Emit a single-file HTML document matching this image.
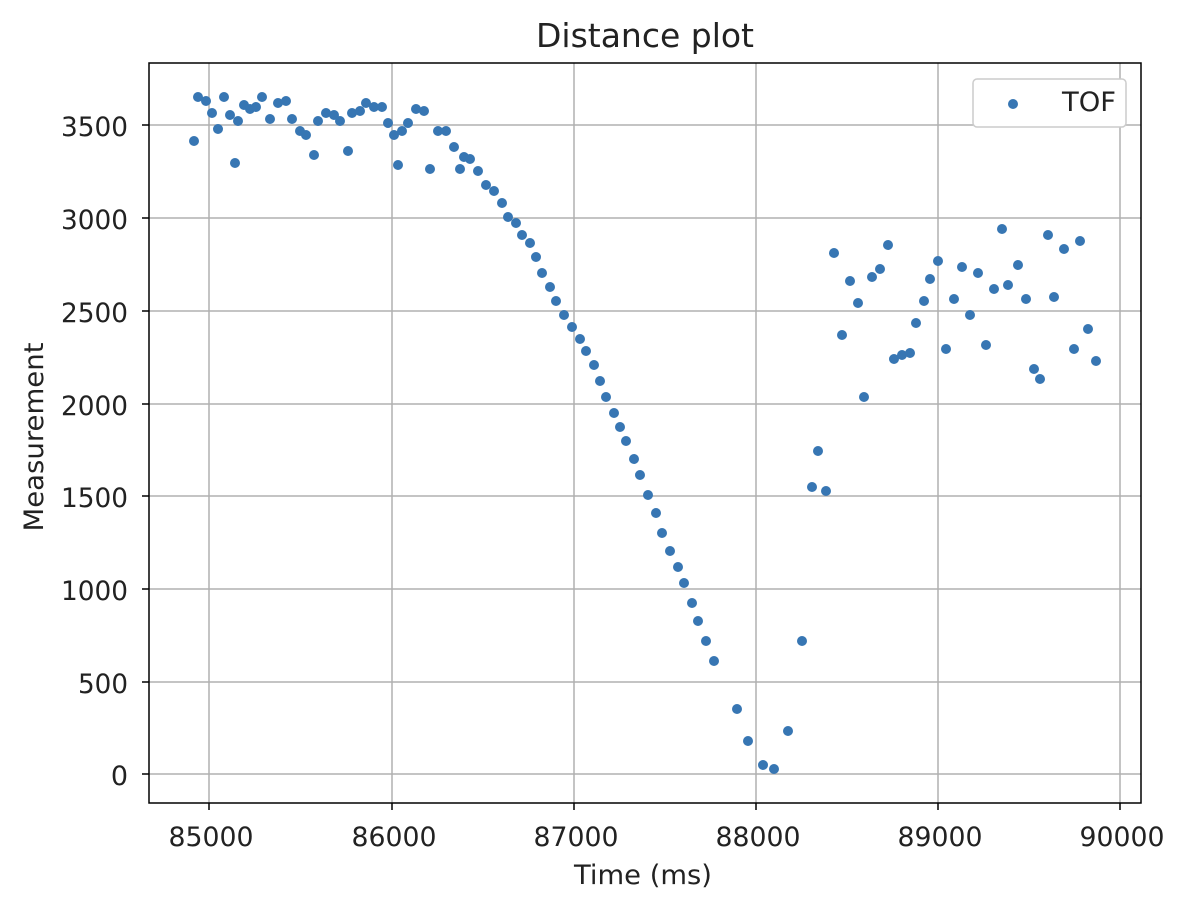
<!DOCTYPE html>
<html><head><style>body{margin:0;background:#fff}</style></head><body>
<svg width="1190" height="906" xmlns="http://www.w3.org/2000/svg" font-family="'DejaVu Sans','Liberation Sans',sans-serif">
<rect width="1190" height="906" fill="#fff"/>
<g stroke="#b0b0b0" stroke-width="1.5">
<line x1="209" y1="63" x2="209" y2="803"/><line x1="392" y1="63" x2="392" y2="803"/><line x1="574" y1="63" x2="574" y2="803"/><line x1="756" y1="63" x2="756" y2="803"/><line x1="938" y1="63" x2="938" y2="803"/><line x1="1120" y1="63" x2="1120" y2="803"/>
<line x1="149" y1="125" x2="1141" y2="125"/><line x1="149" y1="218" x2="1141" y2="218"/><line x1="149" y1="311" x2="1141" y2="311"/><line x1="149" y1="404" x2="1141" y2="404"/><line x1="149" y1="496" x2="1141" y2="496"/><line x1="149" y1="589" x2="1141" y2="589"/><line x1="149" y1="682" x2="1141" y2="682"/><line x1="149" y1="774" x2="1141" y2="774"/>
</g>
<g fill="#3776b3">
<circle cx="194" cy="141" r="5"/><circle cx="198" cy="97" r="5"/><circle cx="206" cy="101" r="5"/><circle cx="212" cy="113" r="5"/><circle cx="218" cy="129" r="5"/><circle cx="224" cy="97" r="5"/><circle cx="230" cy="115" r="5"/><circle cx="235" cy="163" r="5"/><circle cx="238" cy="121" r="5"/><circle cx="244" cy="105" r="5"/><circle cx="250" cy="109" r="5"/><circle cx="256" cy="107" r="5"/><circle cx="262" cy="97" r="5"/><circle cx="270" cy="119" r="5"/><circle cx="278" cy="103" r="5"/><circle cx="286" cy="101" r="5"/><circle cx="292" cy="119" r="5"/><circle cx="300" cy="131" r="5"/><circle cx="306" cy="135" r="5"/><circle cx="314" cy="155" r="5"/><circle cx="318" cy="121" r="5"/><circle cx="326" cy="113" r="5"/><circle cx="334" cy="115" r="5"/><circle cx="340" cy="121" r="5"/><circle cx="348" cy="151" r="5"/><circle cx="352" cy="113" r="5"/><circle cx="360" cy="111" r="5"/><circle cx="366" cy="103" r="5"/><circle cx="374" cy="107" r="5"/><circle cx="382" cy="107" r="5"/><circle cx="388" cy="123" r="5"/><circle cx="394" cy="135" r="5"/><circle cx="398" cy="165" r="5"/><circle cx="402" cy="131" r="5"/><circle cx="408" cy="123" r="5"/><circle cx="416" cy="109" r="5"/><circle cx="424" cy="111" r="5"/><circle cx="430" cy="169" r="5"/><circle cx="438" cy="131" r="5"/><circle cx="446" cy="131" r="5"/><circle cx="454" cy="147" r="5"/><circle cx="460" cy="169" r="5"/><circle cx="464" cy="157" r="5"/><circle cx="470" cy="159" r="5"/><circle cx="478" cy="171" r="5"/><circle cx="486" cy="185" r="5"/><circle cx="494" cy="191" r="5"/><circle cx="502" cy="203" r="5"/><circle cx="508" cy="217" r="5"/><circle cx="516" cy="223" r="5"/><circle cx="522" cy="235" r="5"/><circle cx="530" cy="243" r="5"/><circle cx="536" cy="257" r="5"/><circle cx="542" cy="273" r="5"/><circle cx="550" cy="287" r="5"/><circle cx="556" cy="301" r="5"/><circle cx="564" cy="315" r="5"/><circle cx="572" cy="327" r="5"/><circle cx="580" cy="339" r="5"/><circle cx="586" cy="351" r="5"/><circle cx="594" cy="365" r="5"/><circle cx="600" cy="381" r="5"/><circle cx="606" cy="397" r="5"/><circle cx="614" cy="413" r="5"/><circle cx="620" cy="427" r="5"/><circle cx="626" cy="441" r="5"/><circle cx="634" cy="459" r="5"/><circle cx="640" cy="475" r="5"/><circle cx="648" cy="495" r="5"/><circle cx="656" cy="513" r="5"/><circle cx="662" cy="533" r="5"/><circle cx="670" cy="551" r="5"/><circle cx="678" cy="567" r="5"/><circle cx="684" cy="583" r="5"/><circle cx="692" cy="603" r="5"/><circle cx="698" cy="621" r="5"/><circle cx="706" cy="641" r="5"/><circle cx="714" cy="661" r="5"/><circle cx="737" cy="709" r="5"/><circle cx="748" cy="741" r="5"/><circle cx="763" cy="765" r="5"/><circle cx="774" cy="769" r="5"/><circle cx="788" cy="731" r="5"/><circle cx="802" cy="641" r="5"/><circle cx="812" cy="487" r="5"/><circle cx="818" cy="451" r="5"/><circle cx="826" cy="491" r="5"/><circle cx="834" cy="253" r="5"/><circle cx="842" cy="335" r="5"/><circle cx="850" cy="281" r="5"/><circle cx="858" cy="303" r="5"/><circle cx="864" cy="397" r="5"/><circle cx="872" cy="277" r="5"/><circle cx="880" cy="269" r="5"/><circle cx="888" cy="245" r="5"/><circle cx="894" cy="359" r="5"/><circle cx="902" cy="355" r="5"/><circle cx="910" cy="353" r="5"/><circle cx="916" cy="323" r="5"/><circle cx="924" cy="301" r="5"/><circle cx="930" cy="279" r="5"/><circle cx="938" cy="261" r="5"/><circle cx="946" cy="349" r="5"/><circle cx="954" cy="299" r="5"/><circle cx="962" cy="267" r="5"/><circle cx="970" cy="315" r="5"/><circle cx="978" cy="273" r="5"/><circle cx="986" cy="345" r="5"/><circle cx="994" cy="289" r="5"/><circle cx="1002" cy="229" r="5"/><circle cx="1008" cy="285" r="5"/><circle cx="1018" cy="265" r="5"/><circle cx="1026" cy="299" r="5"/><circle cx="1034" cy="369" r="5"/><circle cx="1040" cy="379" r="5"/><circle cx="1048" cy="235" r="5"/><circle cx="1054" cy="297" r="5"/><circle cx="1064" cy="249" r="5"/><circle cx="1074" cy="349" r="5"/><circle cx="1080" cy="241" r="5"/><circle cx="1088" cy="329" r="5"/><circle cx="1096" cy="361" r="5"/>
</g>
<rect x="149" y="63" width="992" height="740" fill="none" stroke="#000" stroke-width="1.5"/>
<g stroke="#000" stroke-width="1.5">
<line x1="209" y1="803" x2="209" y2="810"/><line x1="392" y1="803" x2="392" y2="810"/><line x1="574" y1="803" x2="574" y2="810"/><line x1="756" y1="803" x2="756" y2="810"/><line x1="938" y1="803" x2="938" y2="810"/><line x1="1120" y1="803" x2="1120" y2="810"/>
<line x1="142" y1="125" x2="149" y2="125"/><line x1="142" y1="218" x2="149" y2="218"/><line x1="142" y1="311" x2="149" y2="311"/><line x1="142" y1="404" x2="149" y2="404"/><line x1="142" y1="496" x2="149" y2="496"/><line x1="142" y1="589" x2="149" y2="589"/><line x1="142" y1="682" x2="149" y2="682"/><line x1="142" y1="774" x2="149" y2="774"/>
</g>
<g font-size="27" fill="#222" text-anchor="middle">
<text x="211" y="846" textLength="85" lengthAdjust="spacingAndGlyphs">85000</text><text x="394" y="846" textLength="85" lengthAdjust="spacingAndGlyphs">86000</text><text x="576" y="846" textLength="85" lengthAdjust="spacingAndGlyphs">87000</text><text x="758" y="846" textLength="85" lengthAdjust="spacingAndGlyphs">88000</text><text x="940" y="846" textLength="85" lengthAdjust="spacingAndGlyphs">89000</text><text x="1122" y="846" textLength="85" lengthAdjust="spacingAndGlyphs">90000</text>
</g>
<g font-size="27" fill="#222" text-anchor="end">
<text x="128" y="136" textLength="67" lengthAdjust="spacingAndGlyphs">3500</text><text x="128" y="229" textLength="67" lengthAdjust="spacingAndGlyphs">3000</text><text x="128" y="322" textLength="67" lengthAdjust="spacingAndGlyphs">2500</text><text x="128" y="415" textLength="67" lengthAdjust="spacingAndGlyphs">2000</text><text x="128" y="507" textLength="67" lengthAdjust="spacingAndGlyphs">1500</text><text x="128" y="600" textLength="67" lengthAdjust="spacingAndGlyphs">1000</text><text x="128" y="693" textLength="50" lengthAdjust="spacingAndGlyphs">500</text><text x="128" y="785">0</text>
</g>
<text x="643" y="884" font-size="27" fill="#222" text-anchor="middle" textLength="138" lengthAdjust="spacingAndGlyphs">Time (ms)</text>
<text transform="translate(43,437) rotate(-90)" font-size="27" fill="#222" text-anchor="middle" textLength="189" lengthAdjust="spacingAndGlyphs">Measurement</text>
<text x="645" y="47" font-size="33" fill="#222" text-anchor="middle" textLength="218" lengthAdjust="spacingAndGlyphs">Distance plot</text>
<rect x="973" y="79" width="153" height="48" rx="4" fill="#fff" stroke="#ccc" stroke-width="1.5"/>
<circle cx="1013" cy="104" r="5" fill="#3776b3"/>
<text x="1089" y="111" font-size="27" fill="#222" text-anchor="middle" textLength="54" lengthAdjust="spacingAndGlyphs">TOF</text>
</svg>
</body></html>
